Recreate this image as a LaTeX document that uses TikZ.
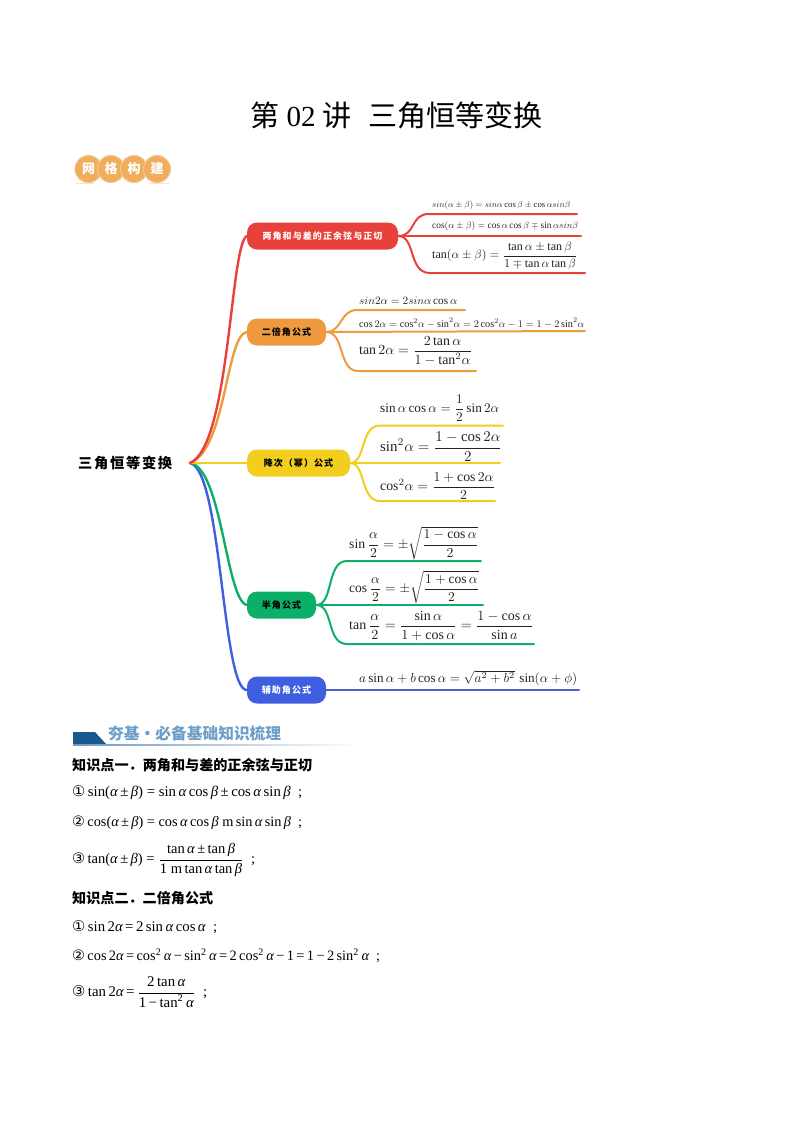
\documentclass[tikz,border=0pt]{standalone}
\usepackage{amsmath}
\usepackage{graphicx}
\usepackage{fontspec}
\setmainfont{Liberation Serif}
\newfontfamily\cjk{Noto Sans CJK SC}
\newfontfamily\cjkw[LetterSpace=12]{Noto Sans CJK SC}
\newfontfamily\sym{DejaVu Sans}
\usetikzlibrary{calc}
\definecolor{cred}{HTML}{E8403A}
\definecolor{corange}{HTML}{EF9A3F}
\definecolor{cyellow}{HTML}{F2CE1E}
\definecolor{cgreen}{HTML}{0BAF68}
\definecolor{cblue}{HTML}{3F5FE0}
\definecolor{cblued}{HTML}{4A62C4}
\definecolor{eqc}{HTML}{2A2020}
\definecolor{badge}{HTML}{F0AE5C}
\definecolor{head}{HTML}{6E9FC8}
\definecolor{headd}{HTML}{17588F}
\newcommand{\fit}[2]{\resizebox{#1pt}{!}{#2}}
\newcommand{\ia}{{\itshape α}}
\newcommand{\ib}{{\itshape β}}
\newcommand{\lfr}[2]{$\dfrac{\mbox{#1}}{\mbox{#2}}$}
\newcommand{\su}{\textsuperscript{2}}
\tikzset{
  topic/.style={rounded corners=10pt,minimum height=27pt,inner sep=0pt,font=\cjkw\bfseries\fontsize{9}{9}\selectfont},
  eqn/.style={anchor=west,inner sep=0pt,text=eqc},
  low/.style={anchor=west,inner sep=0pt,text=black},
  lowhead/.style={anchor=west,inner sep=0pt,font=\cjk\bfseries\fontsize{14.5}{15}\selectfont},
  limb/.style={line width=2.4pt,line cap=round},
  twig/.style={line width=2pt,line cap=round,rounded corners=0pt},
  badgec/.style={circle,fill=badge,draw=badge!70!white,line width=1pt,minimum size=27pt,inner sep=0pt,text=white,font=\cjk\bfseries\fontsize{13}{13}\selectfont}
}
\begin{document}
\begin{tikzpicture}[x=1pt,y=-1pt]
\useasboundingbox (0,0) rectangle (793,1122);
\fill[white] (0,0) rectangle (793,1122);
% title
\node[inner sep=0pt] (title) at (397,115) {\fit{292}{\cjk 第 {\rmfamily 02} 讲\hspace{0.6em}三角恒等变换}};
% badge
\fill[badge!35] (76,183) rectangle (95,184);
\fill[badge!35] (150,183) rectangle (169,184);
\node[badgec] (b1) at (88.5,169) {网};
\node[badgec] (b2) at (111,169) {格};
\node[badgec] (b3) at (134,169) {构};
\node[badgec] (b4) at (157,169) {建};
% root
\node[inner sep=0pt,anchor=west] (root) at (78,463) {\fit{94}{\cjkw\bfseries 三角恒等变换}};
\coordinate (hub) at (190,463);
% topics
\node[topic,fill=cred,text=white,minimum width=151pt] (t1) at (322.5,236) {两角和与差的正余弦与正切};
\node[topic,fill=corange,text=black,minimum width=79pt] (t2) at (286.5,332) {二倍角公式};
\node[topic,fill=cyellow,text=black,minimum width=103pt] (t3) at (298.5,463) {降次（幂）公式};
\node[topic,fill=cgreen,text=black,minimum width=69pt] (t4) at (281.5,605) {半角公式};
\node[topic,fill=cblue,text=white,minimum width=79pt] (t5) at (286.5,690) {辅助角公式};
% limbs
\draw[limb,cblue] (hub) .. controls (222,470) and (222,690) .. (t5.west);
\draw[limb,cgreen] (hub) .. controls (222,468) and (226,600) .. (t4.west);
\draw[limb,cyellow] (hub) -- (t3.west);
\draw[limb,corange] (hub) .. controls (226,450) and (226,335) .. (t2.west);
\draw[limb,cred] (hub) .. controls (230,446) and (230,245) .. (t1.west);
% ends
\coordinate (r1) at (577,214); \coordinate (r2) at (581,236); \coordinate (r3) at (585,273);
\coordinate (o1) at (465,310); \coordinate (o2) at (585,331); \coordinate (o3) at (476,371);
\coordinate (y1) at (503,425.5); \coordinate (y2) at (500,463); \coordinate (y3) at (495,501);
\coordinate (g1) at (481,561); \coordinate (g2) at (483,605); \coordinate (g3) at (534,644);
\coordinate (bl) at (579,690);
% twigs
\draw[twig,cred] (t1.east) .. controls (416,236) and (410,214) .. (429,214) -- (r1);
\draw[twig,cred] (t1.east) -- (r2);
\draw[twig,cred] (t1.east) .. controls (416,236) and (408,273) .. (430,273) -- (r3);
\draw[twig,corange] (t2.east) .. controls (342,332) and (340,310) .. (357,310) -- (o1);
\draw[twig,corange] (t2.east) -- (o2);
\draw[twig,corange] (t2.east) .. controls (345,332) and (338,371) .. (358,371) -- (o3);
\draw[twig,cyellow] (t3.east) .. controls (366,463) and (360,425.5) .. (380,425.5) -- (y1);
\draw[twig,cyellow] (t3.east) -- (y2);
\draw[twig,cyellow] (t3.east) .. controls (366,463) and (360,501) .. (380,501) -- (y3);
\draw[twig,cgreen] (t4.east) .. controls (334,605) and (326,561) .. (347,561) -- (g1);
\draw[twig,cgreen] (t4.east) -- (g2);
\draw[twig,cgreen] (t4.east) .. controls (334,605) and (326,644) .. (347,644) -- (g3);
\draw[twig,cblued] (t5.east) -- (bl);
% equations
\node[eqn] (e1) at (432,205) {\fit{138}{$sin(\alpha\pm\beta)=sin\alpha\cos\beta\pm\cos\alpha sin\beta$}};
\node[eqn] (e2) at (432,226) {\fit{146}{$\cos(\alpha\pm\beta)=\cos\alpha\cos\beta\mp\sin\alpha sin\beta$}};
\node[eqn] (e3) at (432,256) {\fit{145}{$\tan(\alpha\pm\beta)=\dfrac{\tan\alpha\pm\tan\beta}{1\mp\tan\alpha\tan\beta}$}};
\node[eqn] (e4) at (359,300.5) {\fit{98}{$sin2\alpha=2sin\alpha\cos\alpha$}};
\node[eqn] (e5) at (359,323) {\fit{225}{$\cos2\alpha=\cos^2\!\alpha-\sin^2\!\alpha=2\cos^2\!\alpha-1=1-2\sin^2\!\alpha$}};
\node[eqn] (e6) at (359,351) {\fit{113}{$\tan2\alpha=\dfrac{2\tan\alpha}{1-\tan^2\!\alpha}$}};
\node[eqn] (e7) at (380,408) {\fit{119}{$\sin\alpha\cos\alpha=\dfrac{1}{2}\sin2\alpha$}};
\node[eqn] (e8) at (380,447) {\fit{122}{$\sin^2\!\alpha=\dfrac{1-\cos2\alpha}{2}$}};
\node[eqn] (e9) at (380,486) {\fit{115}{$\cos^2\!\alpha=\dfrac{1+\cos2\alpha}{2}$}};
\node[eqn] (e10) at (349,543) {\fit{129}{$\sin\dfrac{\alpha}{2}=\pm\sqrt{\dfrac{1-\cos\alpha}{2}}$}};
\node[eqn] (e11) at (349,587) {\fit{130}{$\cos\dfrac{\alpha}{2}=\pm\sqrt{\dfrac{1+\cos\alpha}{2}}$}};
\node[eqn] (e12) at (349,626) {\fit{184}{$\tan\dfrac{\alpha}{2}=\dfrac{\sin\alpha}{1+\cos\alpha}=\dfrac{1-\cos\alpha}{\sin a}$}};
\node[eqn] (e13) at (359,678) {\fit{218}{$a\sin\alpha+b\cos\alpha=\sqrt{a^2+b^2}\,\sin(\alpha+\phi)$}};
% section header
\fill[headd] (73,732) -- (95,732) -- (106,744) -- (73,744) -- cycle;
\shade[left color=head!80!gray,right color=white] (73,744) rectangle (362,745);
\node[anchor=west,inner sep=0pt,text=head] (hd) at (108,733) {\fit{173}{\cjk\bfseries 夯基·必备基础知识梳理}};
% lower text
\node[lowhead] (k1) at (72,765) {\fit{240}{知识点一．两角和与差的正余弦与正切}};
\node[low] (f1) at (72,793) {\fit{230}{{\sym ①}\,sin(\ia\,±\,\ib) = sin\,\ia\,cos\,\ib\,±\,cos\,\ia\,sin\,\ib\ \ ;}};
\node[low] (f2) at (72,823) {\fit{230}{{\sym ②}\,cos(\ia\,±\,\ib) = cos\,\ia\,cos\,\ib\ m\,sin\,\ia\,sin\,\ib\ \ ;}};
\node[low] (f3) at (72,860) {\fit{183}{{\sym ③}\,tan(\ia\,±\,\ib) = \lfr{tan\,\ia\,±\,tan\,\ib}{1 m\,tan\,\ia\,tan\,\ib}\ \ ;}};
\node[lowhead] (k2) at (72,898) {\fit{141}{知识点二．二倍角公式}};
\node[low] (f4) at (72,927) {\fit{145}{{\sym ①}\,sin\,2\ia\,=\,2\,sin\,\ia\,cos\,\ia\ \ ;}};
\node[low] (f5) at (72,956) {\fit{308}{{\sym ②}\,cos\,2\ia\,=\,cos\su\,\ia\,−\,sin\su\,\ia\,=\,2\,cos\su\,\ia\,−\,1\,=\,1\,−\,2\,sin\su\,\ia\ \ ;}};
\node[low] (f6) at (72,992) {\fit{135}{{\sym ③}\,tan\,2\ia\,=\,\lfr{2\,tan\,\ia}{1\,−\,tan\su\,\ia}\ \ ;}};
\end{tikzpicture}
\end{document}
